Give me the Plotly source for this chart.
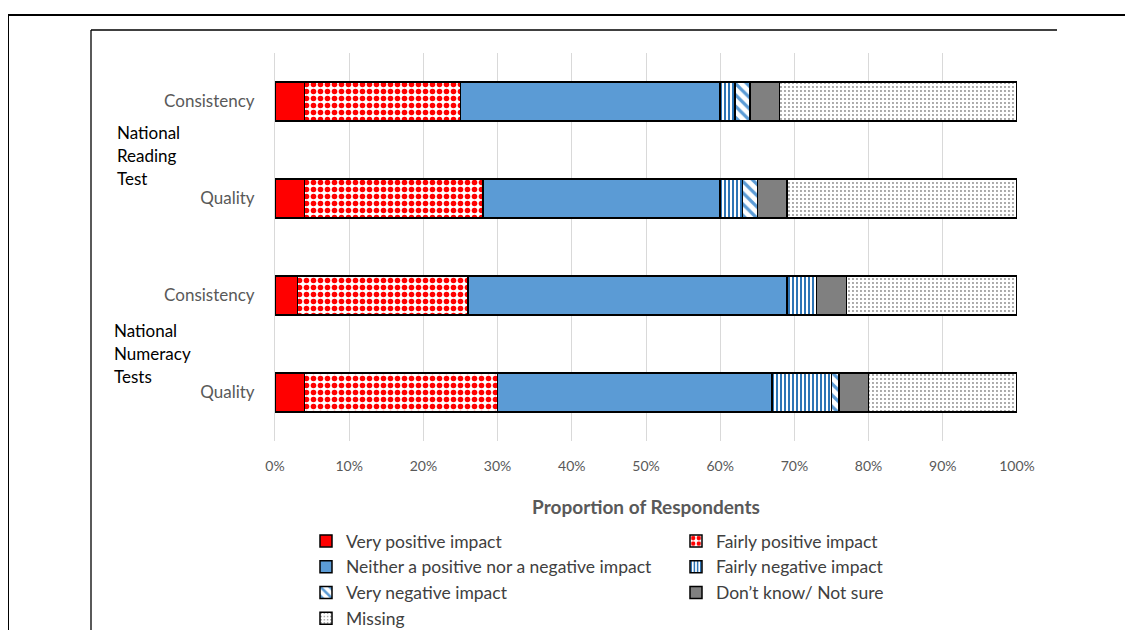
import plotly.graph_objects as go

categories = ["Reading Consistency", "Reading Quality", "Numeracy Consistency", "Numeracy Quality"]
tick_labels = ["Consistency", "Quality", "Consistency", "Quality"]
series_names = ["Very positive impact", "Fairly positive impact",
                "Neither a positive nor a negative impact", "Fairly negative impact",
                "Very negative impact", "Don\u2019t know/ Not sure", "Missing"]
very_positive = [4, 4, 3, 4]
fairly_positive = [21, 24, 23, 26]
neither = [35, 32, 43, 37]
fairly_negative = [2, 3, 4, 8]
very_negative = [2, 2, 0, 1]
dont_know = [4, 4, 4, 4]
missing = [32, 31, 23, 20]
x_ticks = [0, 10, 20, 30, 40, 50, 60, 70, 80, 90, 100]

series_values = [very_positive, fairly_positive, neither, fairly_negative,
                 very_negative, dont_know, missing]

styles = [
    dict(color="#FF0000", pattern=dict(shape="")),
    dict(color="#FFFFFF", pattern=dict(shape=".", fgcolor="#FF0000", bgcolor="#FFFFFF",
                                       size=7, solidity=0.5, fillmode="replace")),
    dict(color="#5B9BD5", pattern=dict(shape="")),
    dict(color="#FFFFFF", pattern=dict(shape="|", fgcolor="#2E75B6", bgcolor="#FFFFFF",
                                       size=4, solidity=0.5, fillmode="replace")),
    dict(color="#FFFFFF", pattern=dict(shape="\\", fgcolor="#5B9BD5", bgcolor="#FFFFFF",
                                       size=8, solidity=0.4, fillmode="replace")),
    dict(color="#808080", pattern=dict(shape="")),
    dict(color="#FFFFFF", pattern=dict(shape=".", fgcolor="#8C8C8C", bgcolor="#FFFFFF",
                                       size=4, solidity=0.18, fillmode="replace")),
]

fig = go.Figure()
for name, vals, st in zip(series_names, series_values, styles):
    fig.add_trace(go.Bar(
        y=categories, x=vals, name=name, orientation="h", width=0.4,
        marker=dict(color=st["color"], pattern=st["pattern"],
                    line=dict(color="#000000", width=1.5)),
    ))

OFF = 8  # page body margin
W, H = 1125, 622
L, R, T, B = 267, 116, 45, 189
pw = W - L - R
ph = H - T - B


def px(xs):
    return (xs - OFF - L) / pw


def py(ys):
    return (H - B - (ys - OFF)) / ph


shapes = [
    dict(type="line", xref="paper", yref="paper", x0=px(7), x1=px(1133), y0=py(15), y1=py(15),
         line=dict(color="black", width=2)),
    dict(type="line", xref="paper", yref="paper", x0=px(8), x1=px(8), y0=py(15), y1=py(630),
         line=dict(color="black", width=2)),
    dict(type="line", xref="paper", yref="paper", x0=px(91), x1=px(1057), y0=py(30), y1=py(30),
         line=dict(color="black", width=1.3)),
    dict(type="line", xref="paper", yref="paper", x0=px(91), x1=px(91), y0=py(30), y1=py(630),
         line=dict(color="black", width=1.3)),
]

group_lines = [("National", 115, 132), ("Reading", 115, 155), ("Test", 115, 178),
               ("National", 112, 330), ("Numeracy", 112, 353), ("Tests", 112, 376)]
annotations = [dict(text=t, xref="paper", yref="paper", x=px(x), y=py(y), xanchor="left",
                    yanchor="middle", showarrow=False,
                    font=dict(family="Lato, Open Sans, sans-serif", size=17, color="#000000"))
               for t, x, y in group_lines]

fig.update_layout(
    barmode="stack",
    width=W, height=H,
    margin=dict(l=L, r=R, t=T, b=B, pad=0, autoexpand=False),
    paper_bgcolor="white", plot_bgcolor="white",
    font=dict(family="Lato, Open Sans, sans-serif", color="#595959"),
    xaxis=dict(range=[0, 100], tickvals=x_ticks, ticktext=[f"{v}%" for v in x_ticks],
               showgrid=True, gridcolor="#D9D9D9", gridwidth=1, zeroline=False,
               showline=False, ticks="", tickfont=dict(size=14, color="#595959"),
               ticklabelstandoff=15, automargin=False,
               title=dict(text="<b>Proportion of Respondents</b>", standoff=27,
                          font=dict(size=19, color="#595959"))),
    yaxis=dict(autorange="reversed", tickvals=categories, ticktext=tick_labels,
               showgrid=False, showline=True, linecolor="#D9D9D9", linewidth=1,
               ticks="", tickfont=dict(size=17, color="#595959"), ticklabelstandoff=16,
               automargin=False),
    legend=dict(orientation="h", x=px(306), xanchor="left", y=py(523), yanchor="top",
                entrywidth=325, entrywidthmode="pixels", traceorder="normal",
                font=dict(size=17.5, color="#404040"), itemwidth=30, tracegroupgap=0,
                bgcolor="rgba(0,0,0,0)"),
    shapes=shapes,
    annotations=annotations,
    showlegend=True,
)

fig.write_html("out.html")
